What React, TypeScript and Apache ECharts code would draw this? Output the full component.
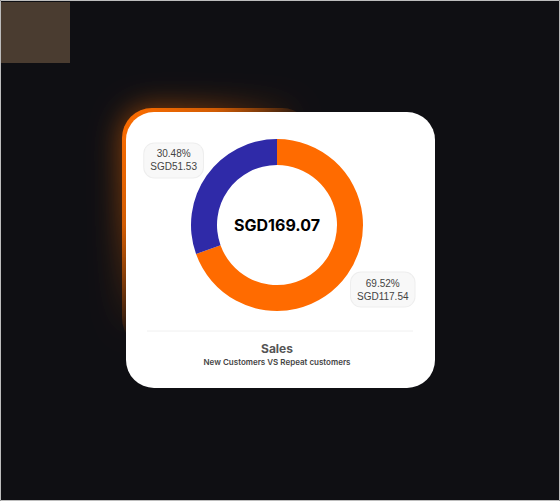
import React, { useEffect, useRef } from "react";
import * as echarts from "echarts";

const categories = ["Repeat customers", "New Customers"];
const values = [117.54, 51.53];
const colors = ["#FF6B00", "#2F2AA8"];
const currency = "SGD";
const title = "Sales";
const subtitle = "New Customers VS Repeat customers";

const CX = 277;
const CY = 225;
const LABEL_DIST = 88;
const LABEL_ANGLE_SHIFT = 2.4;

export default function App() {
  const ref = useRef<HTMLDivElement>(null);
  useEffect(() => {
    if (!ref.current) return;
    const chart = echarts.init(ref.current, null, { renderer: "svg" });
    const total = values.reduce((a, b) => a + b, 0);
    const cumBefore: number[] = [];
    let acc = 0;
    values.forEach((v) => {
      cumBefore.push(acc);
      acc += v;
    });
    const font = "Inter, 'Liberation Sans', Arial, sans-serif";
    const labelFont = "'Liberation Sans', Arial, sans-serif";
    chart.setOption({
      animation: false,
      backgroundColor: "#0F0F13",
      graphic: [
        { type: "rect", z: 0, shape: { x: 1, y: 2, width: 69, height: 61 }, style: { fill: "#4A3C30" } },
        {
          type: "rect",
          z: 1,
          shape: { x: 122, y: 108, width: 190, height: 240, r: 30 },
          style: {
            fill: new echarts.graphic.LinearGradient(0, 0, 1, 1, [
              { offset: 0, color: "rgba(255,110,0,1)" },
              { offset: 0.25, color: "rgba(255,110,0,0.75)" },
              { offset: 0.5, color: "rgba(255,110,0,0)" },
            ]),
            shadowBlur: 30,
            shadowColor: "rgba(255,110,0,0.6)",
          },
        },
        { type: "rect", z: 2, shape: { x: 126, y: 112, width: 309, height: 276, r: 28 }, style: { fill: "#FFFFFF" } },
        { type: "line", z: 3, shape: { x1: 147, y1: 331, x2: 413, y2: 331 }, style: { stroke: "#F0F0F0", lineWidth: 1 } },
        {
          type: "text",
          z: 3,
          x: CX,
          y: 225,
          style: {
            text: currency + total.toFixed(2),
            fill: "#000",
            font: "bold 16px " + font,
            textAlign: "center",
            textVerticalAlign: "middle",
          },
        },
        {
          type: "text",
          z: 3,
          x: CX,
          y: 348,
          style: { text: title, fill: "#555", font: "bold 12px " + font, textAlign: "center", textVerticalAlign: "middle" },
        },
        {
          type: "text",
          z: 3,
          x: CX,
          y: 362,
          style: { text: subtitle, fill: "#444", font: "600 8px " + font, textAlign: "center", textVerticalAlign: "middle" },
        },
        {
          type: "rect",
          z: 10,
          shape: { x: 0.5, y: 0.5, width: 559, height: 500 },
          style: { fill: "none", stroke: "#BDBDBD", lineWidth: 1 },
        },
      ],
      series: [
        {
          type: "pie",
          z: 5,
          center: [CX, CY],
          radius: [60, 86],
          startAngle: 90,
          clockwise: true,
          silent: true,
          data: categories.map((name, i) => ({ name, value: values[i], itemStyle: { color: colors[i] } })),
          label: {
            show: true,
            position: "outside",
            formatter: (p: any) => `{t|${p.percent.toFixed(2)}%}\n{t|${currency}${p.value.toFixed(2)}}`,
            rich: {
              t: {
                fontFamily: labelFont,
                fontSize: 10,
                lineHeight: 13,
                color: "#444",
                align: "center",
              },
            },
            backgroundColor: "#F8F8F8",
            borderColor: "#EEEEEE",
            borderWidth: 1,
            borderRadius: 10,
            padding: [4, 6],
          },
          labelLine: { show: false },
          labelLayout: (params: any) => {
            const i = params.dataIndex;
            const deg = 90 - (360 * (cumBefore[i] + values[i] / 2)) / total + LABEL_ANGLE_SHIFT;
            const mid = (deg * Math.PI) / 180;
            const c = Math.cos(mid);
            const s = Math.sin(mid);
            return {
              x: CX + c * LABEL_DIST,
              y: CY - s * LABEL_DIST,
              align: c > 0 ? "left" : "right",
              verticalAlign: s > 0 ? "bottom" : "top",
            };
          },
        },
      ],
    });
    return () => chart.dispose();
  }, []);
  return <div ref={ref} style={{ position: "fixed", left: 0, top: 0, width: 560, height: 501 }} />;
}
